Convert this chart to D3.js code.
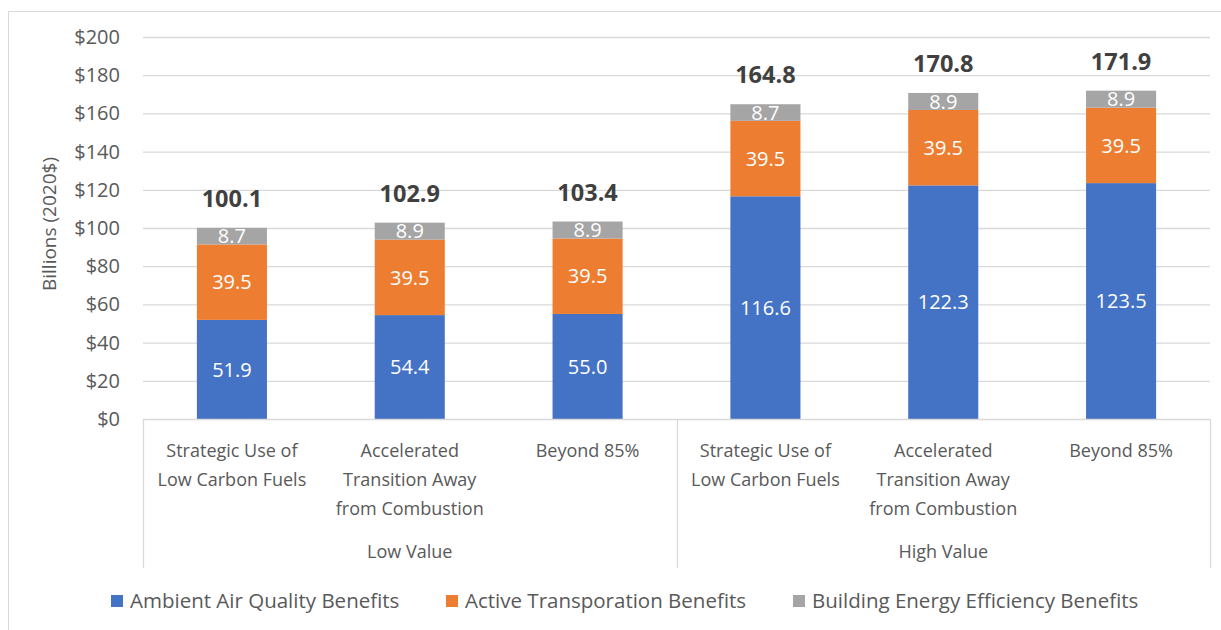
<!DOCTYPE html>
<html>
<head>
<meta charset="utf-8">
<script src="https://cdn.jsdelivr.net/npm/d3@7"></script>
<style>
  body { margin: 0; background: #fff; }
  text { font-family: "Open Sans", "Noto Sans", sans-serif; }
</style>
</head>
<body>
<script>
// scenarios, two value groups of three
var scenarios = ["Strategic Use of|Low Carbon Fuels", "Accelerated|Transition Away|from Combustion", "Beyond 85%"];
var groups = ["Low Value", "High Value"];
var seriesNames = ["Ambient Air Quality Benefits", "Active Transporation Benefits", "Building Energy Efficiency Benefits"];
var colors = ["#4472C4", "#ED7D31", "#A5A5A5"];

var ambient = [51.9, 54.4, 55.0, 116.6, 122.3, 123.5];
var active = [39.5, 39.5, 39.5, 39.5, 39.5, 39.5];
var building = [8.7, 8.9, 8.9, 8.7, 8.9, 8.9];
var totals = [100.1, 102.9, 103.4, 164.8, 170.8, 171.9];
var yTicks = [0, 20, 40, 60, 80, 100, 120, 140, 160, 180, 200];

var width = 1221, height = 630;
var plotLeft = 143, plotRight = 1210, plotTop = 37, plotBottom = 419;

var svg = d3.select("body").append("svg")
    .attr("width", width)
    .attr("height", height);

// outer frame (only left + top visible in the picture)
svg.append("path")
    .attr("d", "M8.5,630 V11.5 H1221")
    .attr("fill", "none")
    .attr("stroke", "#D9D9D9")
    .attr("stroke-width", 1);

var rows = ambient.map(function(d, i) {
  return { key: i, ambient: d, active: active[i], building: building[i], total: totals[i] };
});

var x = d3.scaleBand()
    .domain(d3.range(rows.length))
    .range([plotLeft, plotRight])
    .paddingInner(0.606)
    .paddingOuter(0.303);

var y = d3.scaleLinear()
    .domain([0, 200])
    .range([plotBottom, plotTop]);

// gridlines
svg.append("g").selectAll("line")
  .data(yTicks.slice(1))
  .enter().append("line")
    .attr("x1", plotLeft).attr("x2", plotRight)
    .attr("y1", function(d) { return y(d) + 0.5; })
    .attr("y2", function(d) { return y(d) + 0.5; })
    .attr("stroke", "#D9D9D9")
    .attr("stroke-width", 1.3);

// y tick labels
svg.append("g").selectAll("text")
  .data(yTicks)
  .enter().append("text")
    .attr("x", 120)
    .attr("y", function(d) { return y(d); })
    .attr("dy", "0.35em")
    .attr("text-anchor", "end")
    .attr("fill", "#595959")
    .style("font-size", "20px")
    .text(function(d) { return "$" + d; });

svg.append("text")
    .attr("transform", "translate(49," + 224 + ") rotate(-90)")
    .attr("text-anchor", "middle")
    .attr("dy", "0.35em")
    .attr("fill", "#595959")
    .style("font-size", "19px")
    .text("Billions (2020$)");

// stacked bars
var stack = d3.stack().keys(["ambient", "active", "building"]);
var layers = stack(rows);

var layer = svg.append("g").selectAll("g")
  .data(layers)
  .enter().append("g")
    .attr("fill", function(d, i) { return colors[i]; });

layer.selectAll("rect")
  .data(function(d) { return d; })
  .enter().append("rect")
    .attr("x", function(d) { return x(d.data.key); })
    .attr("y", function(d) { return y(d[1]); })
    .attr("width", x.bandwidth())
    .attr("height", function(d) { return y(d[0]) - y(d[1]); });

layer.selectAll("text")
  .data(function(d) { return d; })
  .enter().append("text")
    .attr("x", function(d) { return x(d.data.key) + x.bandwidth() / 2; })
    .attr("y", function(d) { return (y(d[0]) + y(d[1])) / 2; })
    .attr("dy", "0.36em")
    .attr("text-anchor", "middle")
    .attr("fill", "#fff")
    .style("font-size", "20px")
    .text(function(d) { return (d[1] - d[0]).toFixed(1); });

// totals
svg.append("g").selectAll("text")
  .data(rows)
  .enter().append("text")
    .attr("x", function(d) { return x(d.key) + x.bandwidth() / 2; })
    .attr("y", function(d) { return y(d.total) - 29; })
    .attr("dy", "0.35em")
    .attr("text-anchor", "middle")
    .attr("fill", "#404040")
    .style("font-size", "23.5px")
    .style("font-weight", "bold")
    .text(function(d) { return d.total.toFixed(1); });

// category axis
svg.append("line")
    .attr("x1", plotLeft).attr("x2", plotRight)
    .attr("y1", plotBottom + 0.5).attr("y2", plotBottom + 0.5)
    .attr("stroke", "#D9D9D9").attr("stroke-width", 1.3);

var step = x.step();
[0, 3, 6].forEach(function(k) {
  var xx = Math.round(plotLeft + k * step) + 0.5;
  svg.append("line")
      .attr("x1", xx).attr("x2", xx)
      .attr("y1", plotBottom).attr("y2", 568)
      .attr("stroke", "#D9D9D9").attr("stroke-width", 1.3);
});

var catLabels = svg.append("g").selectAll("text")
  .data(rows)
  .enter().append("text")
    .attr("text-anchor", "middle")
    .attr("fill", "#595959")
    .style("font-size", "18px");

catLabels.selectAll("tspan")
  .data(function(d) {
    return scenarios[d.key % 3].split("|").map(function(s) { return { s: s, k: d.key }; });
  })
  .enter().append("tspan")
    .attr("x", function(d) { return x(d.k) + x.bandwidth() / 2; })
    .attr("y", function(d, i) { return 457 + i * 29; })
    .text(function(d) { return d.s; });

svg.append("g").selectAll("text")
  .data(groups)
  .enter().append("text")
    .attr("x", function(d, i) { return plotLeft + (i * 3 + 1.5) * step; })
    .attr("y", 558)
    .attr("text-anchor", "middle")
    .attr("fill", "#595959")
    .style("font-size", "18px")
    .text(function(d) { return d; });

// legend
var legendX = [111, 446, 793];
var legend = svg.append("g").selectAll("g")
  .data(seriesNames)
  .enter().append("g")
    .attr("transform", function(d, i) { return "translate(" + legendX[i] + ",601)"; });

legend.append("rect")
    .attr("x", 0).attr("y", -6)
    .attr("width", 12).attr("height", 12)
    .attr("fill", function(d, i) { return colors[i]; });

legend.append("text")
    .attr("x", 19)
    .attr("dy", "0.35em")
    .attr("fill", "#595959")
    .style("font-size", "20.5px")
    .text(function(d) { return d; });
</script>
</body>
</html>
